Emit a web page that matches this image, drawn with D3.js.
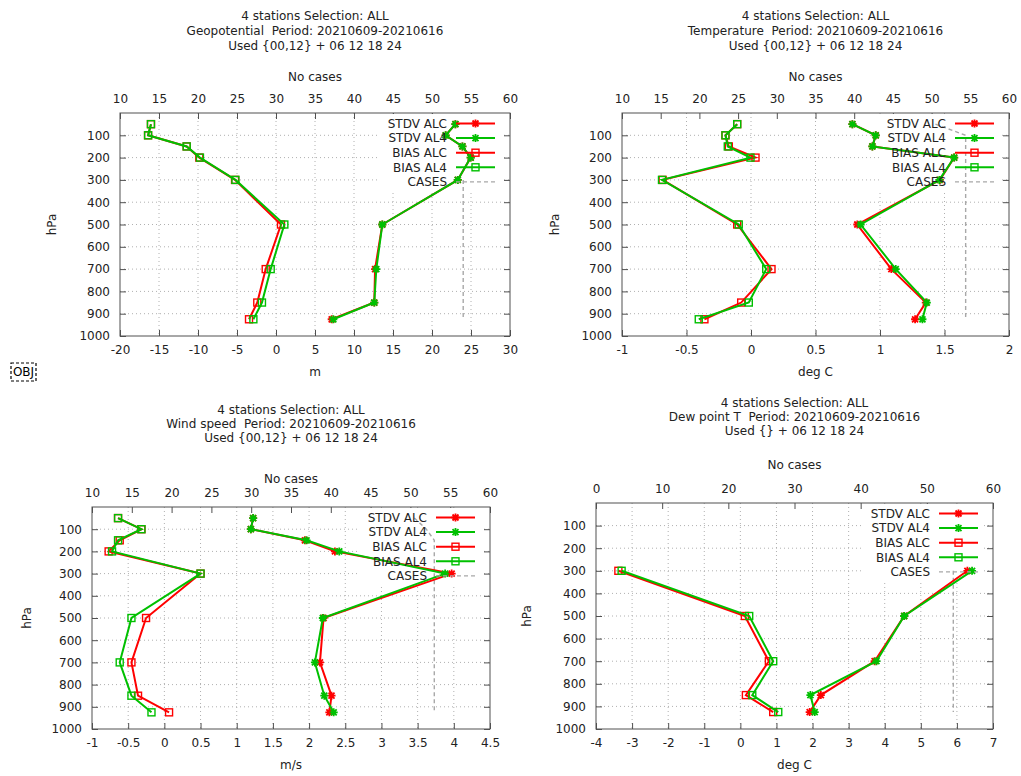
<!DOCTYPE html>
<html><head><meta charset="utf-8">
<script src="https://cdn.jsdelivr.net/npm/d3@7"></script>
<style>
body{margin:0;background:#fff}
text{font-family:"DejaVu Sans",sans-serif;font-size:12px;fill:#222;white-space:pre}
</style>
</head><body>
<svg id="c" width="1021" height="776"></svg>
<script>
// ---------- data ----------
const levels = [50, 100, 150, 200, 300, 500, 700, 850, 925];
const yTicks = [100, 200, 300, 400, 500, 600, 700, 800, 900, 1000];
const seriesNames = ["STDV ALC", "STDV AL4", "BIAS ALC", "BIAS AL4", "CASES"];

// Geopotential (m)
const geoStdvALC = [23.0, 21.75, 23.9, 24.96, 23.3, 13.63, 12.7, 12.6, 7.14];
const geoStdvAL4 = [23.0, 21.75, 23.9, 24.96, 23.3, 13.63, 12.86, 12.6, 7.35];
const geoBiasALC = [-16.03, -16.4, -11.45, -9.83, -5.25, 0.64, -1.32, -2.4, -3.46];
const geoBiasAL4 = [-16.03, -16.4, -11.45, -9.75, -5.2, 1.07, -0.68, -1.8, -2.9];
const geoCases = [null, null, null, null, 54, 54, 54, 54, 54];
const geoXTicks = [-20, -15, -10, -5, 0, 5, 10, 15, 20, 25, 30];

// Temperature (deg C)
const tmpStdvALC = [0.786, 0.967, 0.941, 1.575, 1.464, 0.824, 1.088, 1.355, 1.272];
const tmpStdvAL4 = [0.786, 0.967, 0.941, 1.575, 1.46, 0.85, 1.122, 1.363, 1.329];
const tmpBiasALC = [-0.107, -0.198, -0.172, 0.035, -0.685, -0.107, 0.159, -0.076, -0.361];
const tmpBiasAL4 = [-0.107, -0.198, -0.18, -0.004, -0.69, -0.095, 0.118, -0.017, -0.405];
const tmpCases = [50.5, 54.4, 54.4, 54.4, 54.4, 54.4, 54.4, 54.4, 54.4];
const tmpXTicks = [-1, -0.5, 0, 0.5, 1, 1.5, 2];

// Wind speed (m/s)
const wndStdvALC = [1.227, 1.195, 1.942, 2.357, 3.97, 2.2, 2.15, 2.31, 2.28];
const wndStdvAL4 = [1.227, 1.195, 1.965, 2.417, 3.88, 2.19, 2.08, 2.21, 2.34];
const wndBiasALC = [-0.64, -0.317, -0.617, -0.77, 0.5, -0.253, -0.455, -0.364, 0.065];
const wndBiasAL4 = [-0.64, -0.317, -0.64, -0.723, 0.5, -0.455, -0.617, -0.455, -0.178];
const wndCases = [50.5, 52, 53, 53, 53, 53, 53, 53, 53];
const wndXTicks = [-1, -0.5, 0, 0.5, 1, 1.5, 2, 2.5, 3, 3.5, 4, 4.5];

// Dew point T (deg C)
const dewStdvALC = [null, null, null, null, 6.29, 4.54, 3.72, 2.23, 1.92];
const dewStdvAL4 = [null, null, null, null, 6.42, 4.54, 3.77, 1.94, 2.06];
const dewBiasALC = [null, null, null, null, -3.38, 0.125, 0.79, 0.153, 0.91];
const dewBiasAL4 = [null, null, null, null, -3.29, 0.245, 0.91, 0.33, 1.05];
const dewCases = [null, null, null, null, 54, 54, 54, 54, 54];
const dewXTicks = [-4, -3, -2, -1, 0, 1, 2, 3, 4, 5, 6, 7];

const casesTicks10 = [10, 15, 20, 25, 30, 35, 40, 45, 50, 55, 60];
const casesTicks0 = [0, 10, 20, 30, 40, 50, 60];

const RED = "#ff0000", GREEN = "#00c000", GRAY = "#a8a8a8", FRAME = "#505050";

// ---------- panels ----------
const panels = [
  {title: ["4 stations Selection: ALL", "Geopotential  Period: 20210609-20210616", "Used {00,12} + 06 12 18 24"],
   xlabel: "m", xDomain: [-20, 30], xTicks: geoXTicks, x2Domain: [10, 60], x2Ticks: casesTicks10,
   series: [geoStdvALC, geoStdvAL4, geoBiasALC, geoBiasAL4, geoCases],
   L: 120, R: 510, T: 113, B: 336, titleY: [16, 31, 46], noCasesY: 77, xlabelY: 372, hpaX: 52},
  {title: ["4 stations Selection: ALL", "Temperature  Period: 20210609-20210616", "Used {00,12} + 06 12 18 24"],
   xlabel: "deg C", xDomain: [-1, 2], xTicks: tmpXTicks, x2Domain: [10, 60], x2Ticks: casesTicks10,
   series: [tmpStdvALC, tmpStdvAL4, tmpBiasALC, tmpBiasAL4, tmpCases],
   L: 622, R: 1009, T: 113, B: 336, titleY: [16, 31, 46], noCasesY: 77, xlabelY: 372, hpaX: 555},
  {title: ["4 stations Selection: ALL", "Wind speed  Period: 20210609-20210616", "Used {00,12} + 06 12 18 24"],
   xlabel: "m/s", xDomain: [-1, 4.5], xTicks: wndXTicks, x2Domain: [10, 60], x2Ticks: casesTicks10,
   series: [wndStdvALC, wndStdvAL4, wndBiasALC, wndBiasAL4, wndCases],
   L: 92, R: 490, T: 507, B: 729, titleY: [410, 424, 438], noCasesY: 479, xlabelY: 765, hpaX: 27},
  {title: ["4 stations Selection: ALL", "Dew point T  Period: 20210609-20210616", "Used {} + 06 12 18 24"],
   xlabel: "deg C", xDomain: [-4, 7], xTicks: dewXTicks, x2Domain: [0, 60], x2Ticks: casesTicks0,
   series: [dewStdvALC, dewStdvAL4, dewBiasALC, dewBiasAL4, dewCases],
   L: 596, R: 993, T: 503, B: 729, titleY: [403, 417, 431], noCasesY: 465, xlabelY: 765, hpaX: 527}
];

const styles = [
  {color: RED, marker: "star"}, {color: GREEN, marker: "star"},
  {color: RED, marker: "square"}, {color: GREEN, marker: "square"},
  {color: GRAY, marker: null, dash: "4,3"}
];

const svg = d3.select("#c");
const fmt = d => String(d);

function marker(g, type, color, cx, cy) {
  if (type === "star") {
    g.append("path").attr("d", "M-4,0H4M0,-4V4M-3,-3L3,3M-3,3L3,-3")
      .attr("transform", `translate(${cx},${cy})`)
      .attr("stroke", color).attr("stroke-width", 1.8).attr("fill", "none");
  } else if (type === "square") {
    g.append("rect").attr("x", cx - 3.5).attr("y", cy - 3.5).attr("width", 7).attr("height", 7)
      .attr("stroke", color).attr("stroke-width", 1.4).attr("fill", "none");
  }
}

function drawPanel(p) {
  const g = svg.append("g");
  const x = d3.scaleLinear().domain(p.xDomain).range([p.L, p.R]);
  const x2 = d3.scaleLinear().domain(p.x2Domain).range([p.L, p.R]);
  const y = d3.scaleLinear().domain([0, 1000]).range([p.T, p.B]);
  const cx = (p.L + p.R) / 2;

  // grid
  const grid = g.append("g").attr("stroke", "#b0b0b0").attr("stroke-width", 1).attr("stroke-dasharray", "1,3");
  p.xTicks.slice(1, -1).forEach(t => grid.append("line").attr("x1", x(t)).attr("x2", x(t)).attr("y1", p.T).attr("y2", p.B));
  yTicks.slice(0, -1).forEach(t => grid.append("line").attr("x1", p.L).attr("x2", p.R).attr("y1", y(t)).attr("y2", y(t)));

  // axes
  const ax = g.append("g").attr("transform", `translate(0,${p.B})`)
    .call(d3.axisBottom(x).tickValues(p.xTicks).tickSize(-6).tickPadding(9).tickFormat(fmt));
  const ax2 = g.append("g").attr("transform", `translate(0,${p.T})`)
    .call(d3.axisTop(x2).tickValues(p.x2Ticks).tickSize(-6).tickPadding(10).tickFormat(fmt));
  const ay = g.append("g").attr("transform", `translate(${p.L},0)`)
    .call(d3.axisLeft(y).tickValues(yTicks).tickSize(-6).tickPadding(10).tickFormat(fmt));
  const ay2 = g.append("g").attr("transform", `translate(${p.R},0)`)
    .call(d3.axisRight(y).tickValues(yTicks).tickSize(-6).tickFormat(""));
  [ax, ax2, ay, ay2].forEach(a => {
    a.select(".domain").remove();
    a.selectAll(".tick line").attr("stroke", FRAME);
    a.selectAll("text").attr("font-family", "DejaVu Sans").attr("font-size", 12).attr("fill", "#222");
  });
  g.append("rect").attr("x", p.L).attr("y", p.T).attr("width", p.R - p.L).attr("height", p.B - p.T)
    .attr("fill", "none").attr("stroke", FRAME).attr("stroke-width", 1);

  // titles & labels
  p.title.forEach((t, i) => g.append("text").attr("x", cx).attr("y", p.titleY[i]).attr("dy", "0.35em")
    .attr("text-anchor", "middle").text(t));
  g.append("text").attr("x", cx).attr("y", p.noCasesY).attr("dy", "0.35em").attr("text-anchor", "middle").text("No cases");
  g.append("text").attr("x", cx).attr("y", p.xlabelY).attr("dy", "0.35em").attr("text-anchor", "middle").text(p.xlabel);
  g.append("text").attr("transform", `translate(${p.hpaX},${(p.T + p.B) / 2}) rotate(-90)`).attr("dy", "0.35em")
    .attr("text-anchor", "middle").text("hPa");

  // legend background
  g.append("rect").attr("x", p.R - 130).attr("y", p.T + 1).attr("width", 121).attr("height", 76).attr("fill", "#fff");

  // series: cases first, then data
  const order = [4, 0, 1, 2, 3];
  order.forEach(si => {
    const vals = p.series[si];
    const st = styles[si];
    const sx = si === 4 ? x2 : x;
    const pts = levels.map((lv, i) => ({lv, v: vals[i]}));
    const line = d3.line().defined(d => d.v != null).x(d => sx(d.v)).y(d => y(d.lv));
    g.append("path").attr("d", line(pts)).attr("fill", "none").attr("stroke", st.color)
      .attr("stroke-width", si === 4 ? 1.4 : 2).attr("stroke-dasharray", st.dash || null);
    if (st.marker) pts.filter(d => d.v != null).forEach(d => marker(g, st.marker, st.color, sx(d.v), y(d.lv)));
  });

  // legend
  seriesNames.forEach((name, i) => {
    const ly = p.T + 10.5 + i * 14.6;
    const st = styles[i];
    g.append("text").attr("x", p.R - 63).attr("y", ly).attr("dy", "0.35em").attr("text-anchor", "end").text(name);
    g.append("line").attr("x1", p.R - 54).attr("x2", p.R - 15).attr("y1", ly).attr("y2", ly)
      .attr("stroke", st.color).attr("stroke-width", i === 4 ? 1.4 : 2).attr("stroke-dasharray", st.dash || null);
    if (st.marker) marker(g, st.marker, st.color, p.R - 34.5, ly);
  });
}

panels.forEach(drawPanel);

// OBJ marker
svg.append("rect").attr("x", 11).attr("y", 363).attr("width", 25).attr("height", 18)
  .attr("fill", "none").attr("stroke", "#000").attr("stroke-width", 1.2).attr("stroke-dasharray", "3,2");
svg.append("text").attr("x", 23.5).attr("y", 372).attr("dy", "0.35em").attr("text-anchor", "middle")
  .style("font-size", "12px").style("fill", "#000").text("OBJ");
</script>
</body></html>
